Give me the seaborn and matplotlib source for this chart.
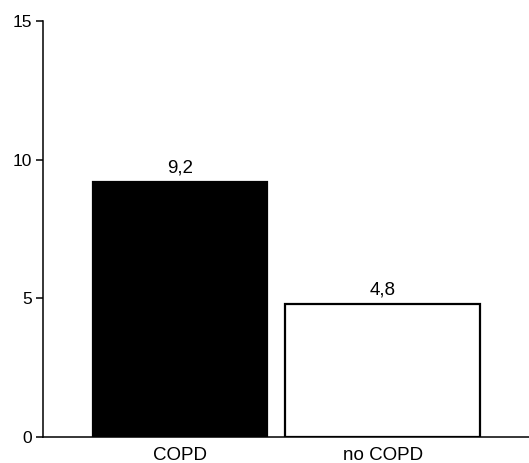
import matplotlib
matplotlib.use("Agg")
import matplotlib.pyplot as plt
import seaborn as sns
import pandas as pd

categories = ["COPD", "no COPD"]
values = [9.2, 4.8]
bar_colors = ["#000000", "#ffffff"]
y_ticks = [0, 5, 10, 15]

sns.set_style("white")
plt.rcParams["font.family"] = ["Liberation Sans", "DejaVu Sans"]
plt.rcParams["text.color"] = "black"
plt.rcParams["xtick.color"] = "black"
plt.rcParams["ytick.color"] = "black"
plt.rcParams["xtick.labelcolor"] = "black"
plt.rcParams["ytick.labelcolor"] = "black"

df = pd.DataFrame({"group": categories, "value": values})

fig = plt.figure(figsize=(5.29, 4.63), dpi=100)
ax = fig.add_axes([0.0813, 0.0562, 0.9187, 0.8984])

sns.barplot(data=df, x="group", y="value", hue="group", palette=bar_colors,
            legend=False, edgecolor="black", linewidth=1.6, width=0.9,
            saturation=1, ax=ax)

# bar widths and offsets within each category slot
bar_spans = [(-0.43, 0.43), (-0.48, 0.48)]
for patch, (lo, hi), xc in zip(ax.patches, bar_spans, range(len(categories))):
    patch.set_x(xc + lo)
    patch.set_width(hi - lo)

for xc, v in enumerate(values):
    ax.annotate(f"{v:.1f}".replace(".", ","), xy=(xc, v), xytext=(0, 4),
                textcoords="offset points", ha="center", va="bottom",
                fontsize=13.5, color="black")

ax.set_xlim(-0.675, 1.72)
ax.set_ylim(0, 15)
ax.set_yticks(y_ticks)
ax.set_yticklabels([str(t) for t in y_ticks], fontsize=12.5)
ax.set_xlabel("")
ax.set_ylabel("")
ax.tick_params(axis="y", direction="out", length=5, width=1.1, pad=3, left=True)
ax.tick_params(axis="x", length=0, pad=7, labelsize=13.5)

for side in ["top", "right"]:
    ax.spines[side].set_visible(False)
for side in ["left", "bottom"]:
    ax.spines[side].set_linewidth(1.1)
    ax.spines[side].set_color("black")

fig.savefig("out.png", dpi=100)
